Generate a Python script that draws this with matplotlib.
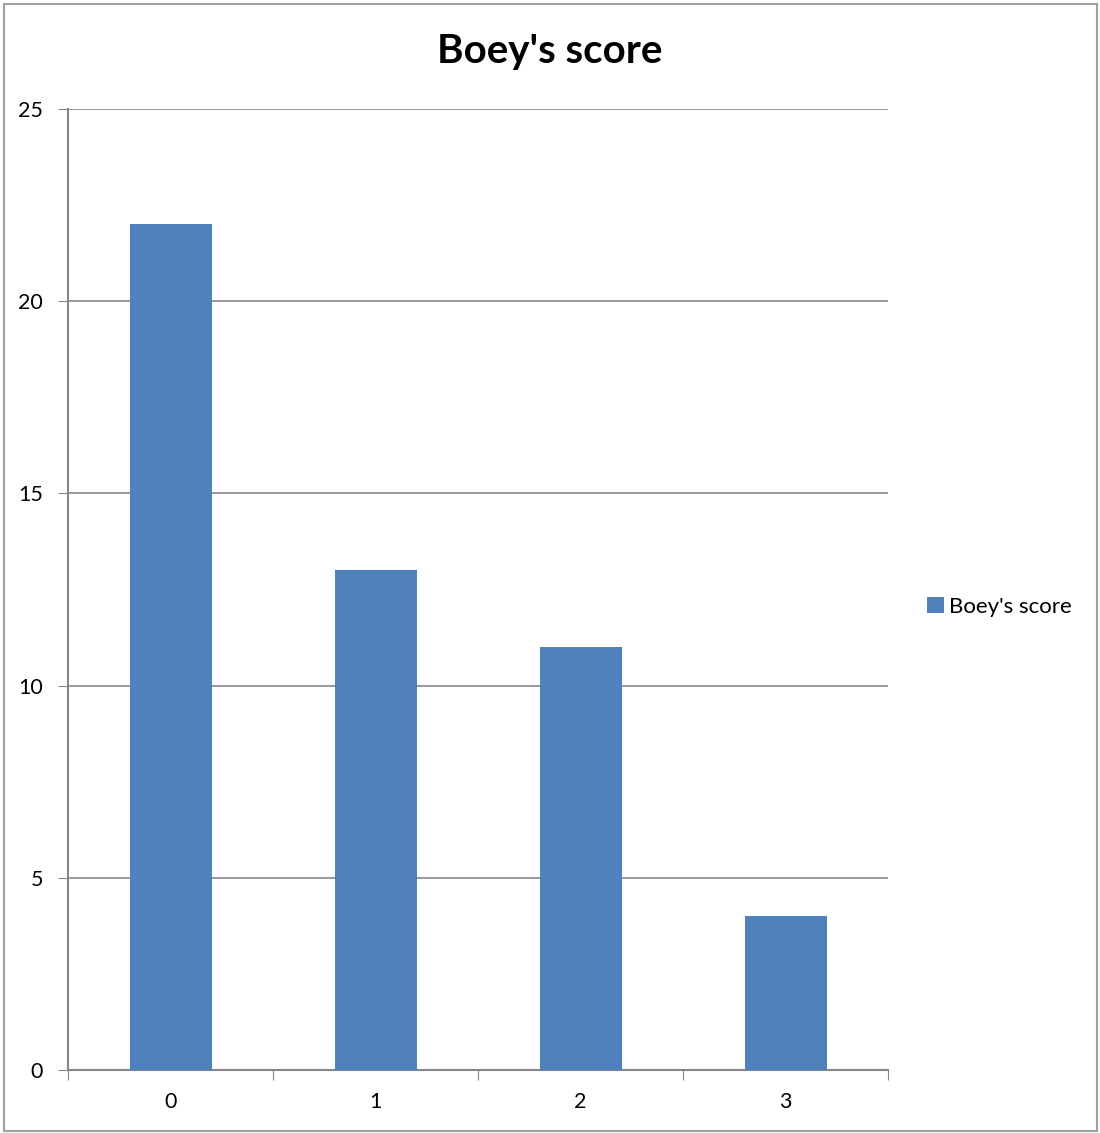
import numpy as np
import matplotlib
matplotlib.use('Agg')
import matplotlib.pyplot as plt
from matplotlib.patches import Rectangle, Patch

categories = ['0', '1', '2', '3']
scores = [22, 13, 11, 4]
series_name = "Boey's score"
y_ticks = [0, 5, 10, 15, 20, 25]

bar_color = '#4F81BD'
line_gray = '#868686'

plt.rcParams['font.family'] = ['Lato', 'DejaVu Sans']

fig = plt.figure(figsize=(11, 11.33), dpi=100)
ax = fig.add_axes([68/1100, 63/1133, 820/1100, 961/1133])

x = np.arange(len(categories))
ax.bar(x, scores, width=0.4, color=bar_color, zorder=3)

ax.set_xlim(-0.5, len(categories) - 0.5)
ax.set_ylim(0, 25)

# boundaries between categories carry the tick marks, centers carry the labels
ax.set_xticks(np.arange(len(categories) + 1) - 0.5)
ax.set_xticklabels([])
ax.set_xticks(x, minor=True)
ax.set_xticklabels(categories, minor=True, fontsize=15.5)
ax.tick_params(axis='x', which='major', length=7, color=line_gray, direction='out')
ax.tick_params(axis='x', which='minor', length=0, pad=16)

ax.set_yticks(y_ticks)
ax.set_yticklabels([str(v) for v in y_ticks], fontsize=15.5)
ax.tick_params(axis='y', length=7, color=line_gray, direction='out', pad=11)

ax.yaxis.grid(True, color=line_gray, linewidth=1.2, zorder=0)
for side in ['top', 'right']:
    ax.spines[side].set_visible(False)
for side in ['left', 'bottom']:
    ax.spines[side].set_color(line_gray)
    ax.spines[side].set_linewidth(1.5)

fig.text(0.5, 1 - 52/1133, series_name, ha='center', va='center',
         fontsize=29, fontweight='bold')

fig.legend(handles=[Patch(facecolor=bar_color, label=series_name)],
           loc='center left', bbox_to_anchor=(907/1100, 1 - 607/1133),
           frameon=False, fontsize=16, handlelength=0.75, handleheight=0.75,
           handletextpad=0.25)

# outer chart border
fig.patches.append(Rectangle((4/1100, 2/1133), 1093/1100, 1127/1133,
                             transform=fig.transFigure, fill=False,
                             edgecolor='#A0A0A0', linewidth=1.5))

plt.savefig('out.png', dpi=100)
